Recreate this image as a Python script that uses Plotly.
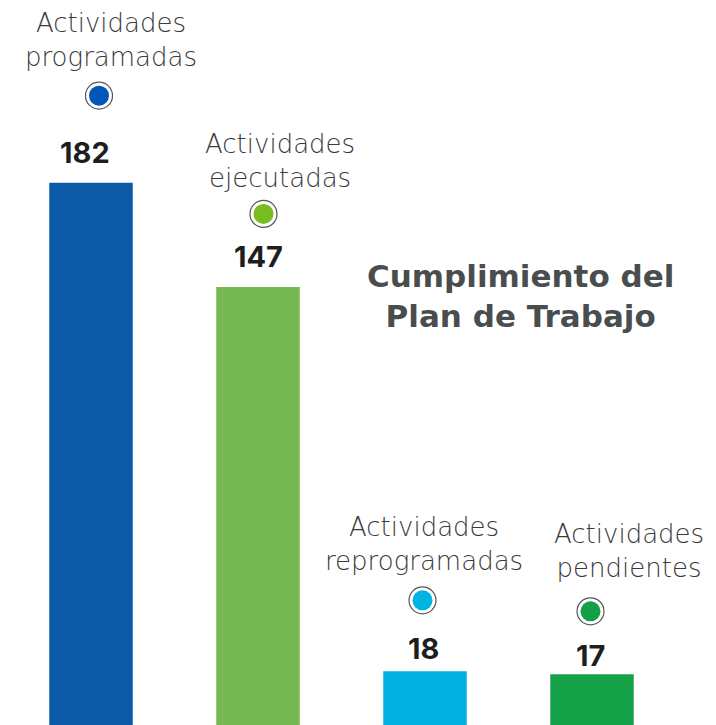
import plotly.graph_objects as go

categories = ["Actividades<br>programadas", "Actividades<br>ejecutadas",
              "Actividades<br>reprogramadas", "Actividades<br>pendientes"]
values = [182, 147, 18, 17]
bar_colors = ["#0B5AA6", "#76B852", "#00B0DF", "#16A249"]
dot_colors = ["#0057B8", "#78BE20", "#00B5E2", "#13A049"]
title_text = "Cumplimiento del<br>Plan de Trabajo"

W, H = 716, 725
PAGE_OFF = 8          # default body margin of the html page
px_per_unit = 2.98
bar_spacing = 167
first_bar_px = 91

# pixel offsets above each bar top (x shift, y shift)
label_off = [(20, 143), (22, 126), (-1, 127), (37, 123)]
value_off = [(-6, 30), (0, 30), (-2, 23), (-2, 19)]
dot_off = [(8, 87), (5.5, 73), (-2.5, 71), (-1.5, 63)]

xs = list(range(len(values)))

fig = go.Figure()
fig.add_trace(go.Bar(x=xs, y=values, marker_color=bar_colors, width=0.5,
                     marker_line_width=0, hoverinfo="skip"))

dot_x = [x + dx / bar_spacing for x, (dx, dy) in zip(xs, dot_off)]
dot_y = [v + dy / px_per_unit for v, (dx, dy) in zip(values, dot_off)]
fig.add_trace(go.Scatter(x=dot_x, y=dot_y, mode="markers",
                         marker=dict(size=27, color="white", line=dict(color="#555", width=1.2)),
                         hoverinfo="skip"))
fig.add_trace(go.Scatter(x=dot_x, y=dot_y, mode="markers",
                         marker=dict(size=20, color=dot_colors, line_width=0),
                         hoverinfo="skip"))

for x, v, cat, (lx, ly), (vx, vy) in zip(xs, values, categories, label_off, value_off):
    fig.add_annotation(x=x, y=v, text=cat, showarrow=False, xshift=lx, yshift=ly, borderpad=0,
                       font=dict(family="DejaVu Sans", size=26, color="#3a3a3a", weight=200))
    fig.add_annotation(x=x, y=v, text=str(v), showarrow=False, xshift=vx, yshift=vy,
                       font=dict(family="Inter", size=29, color="#1e1e1e", weight="bold"))

fig.add_annotation(xref="paper", yref="paper", x=(520 - PAGE_OFF) / W, y=1 - (296 - PAGE_OFF) / H,
                   xanchor="center", yanchor="middle", text=title_text,
                   showarrow=False, align="center",
                   font=dict(family="DejaVu Sans", size=31, color="#4a4d4d", weight="bold"))

fig.update_layout(
    width=W, height=H, showlegend=False,
    margin=dict(l=0, r=0, t=0, b=0),
    paper_bgcolor="white", plot_bgcolor="white",
    xaxis=dict(range=[-(first_bar_px - PAGE_OFF) / bar_spacing,
                      (W - first_bar_px + PAGE_OFF) / bar_spacing], visible=False),
    yaxis=dict(range=[-PAGE_OFF / px_per_unit, (H - PAGE_OFF) / px_per_unit], visible=False),
)

fig.write_html("out.html")
